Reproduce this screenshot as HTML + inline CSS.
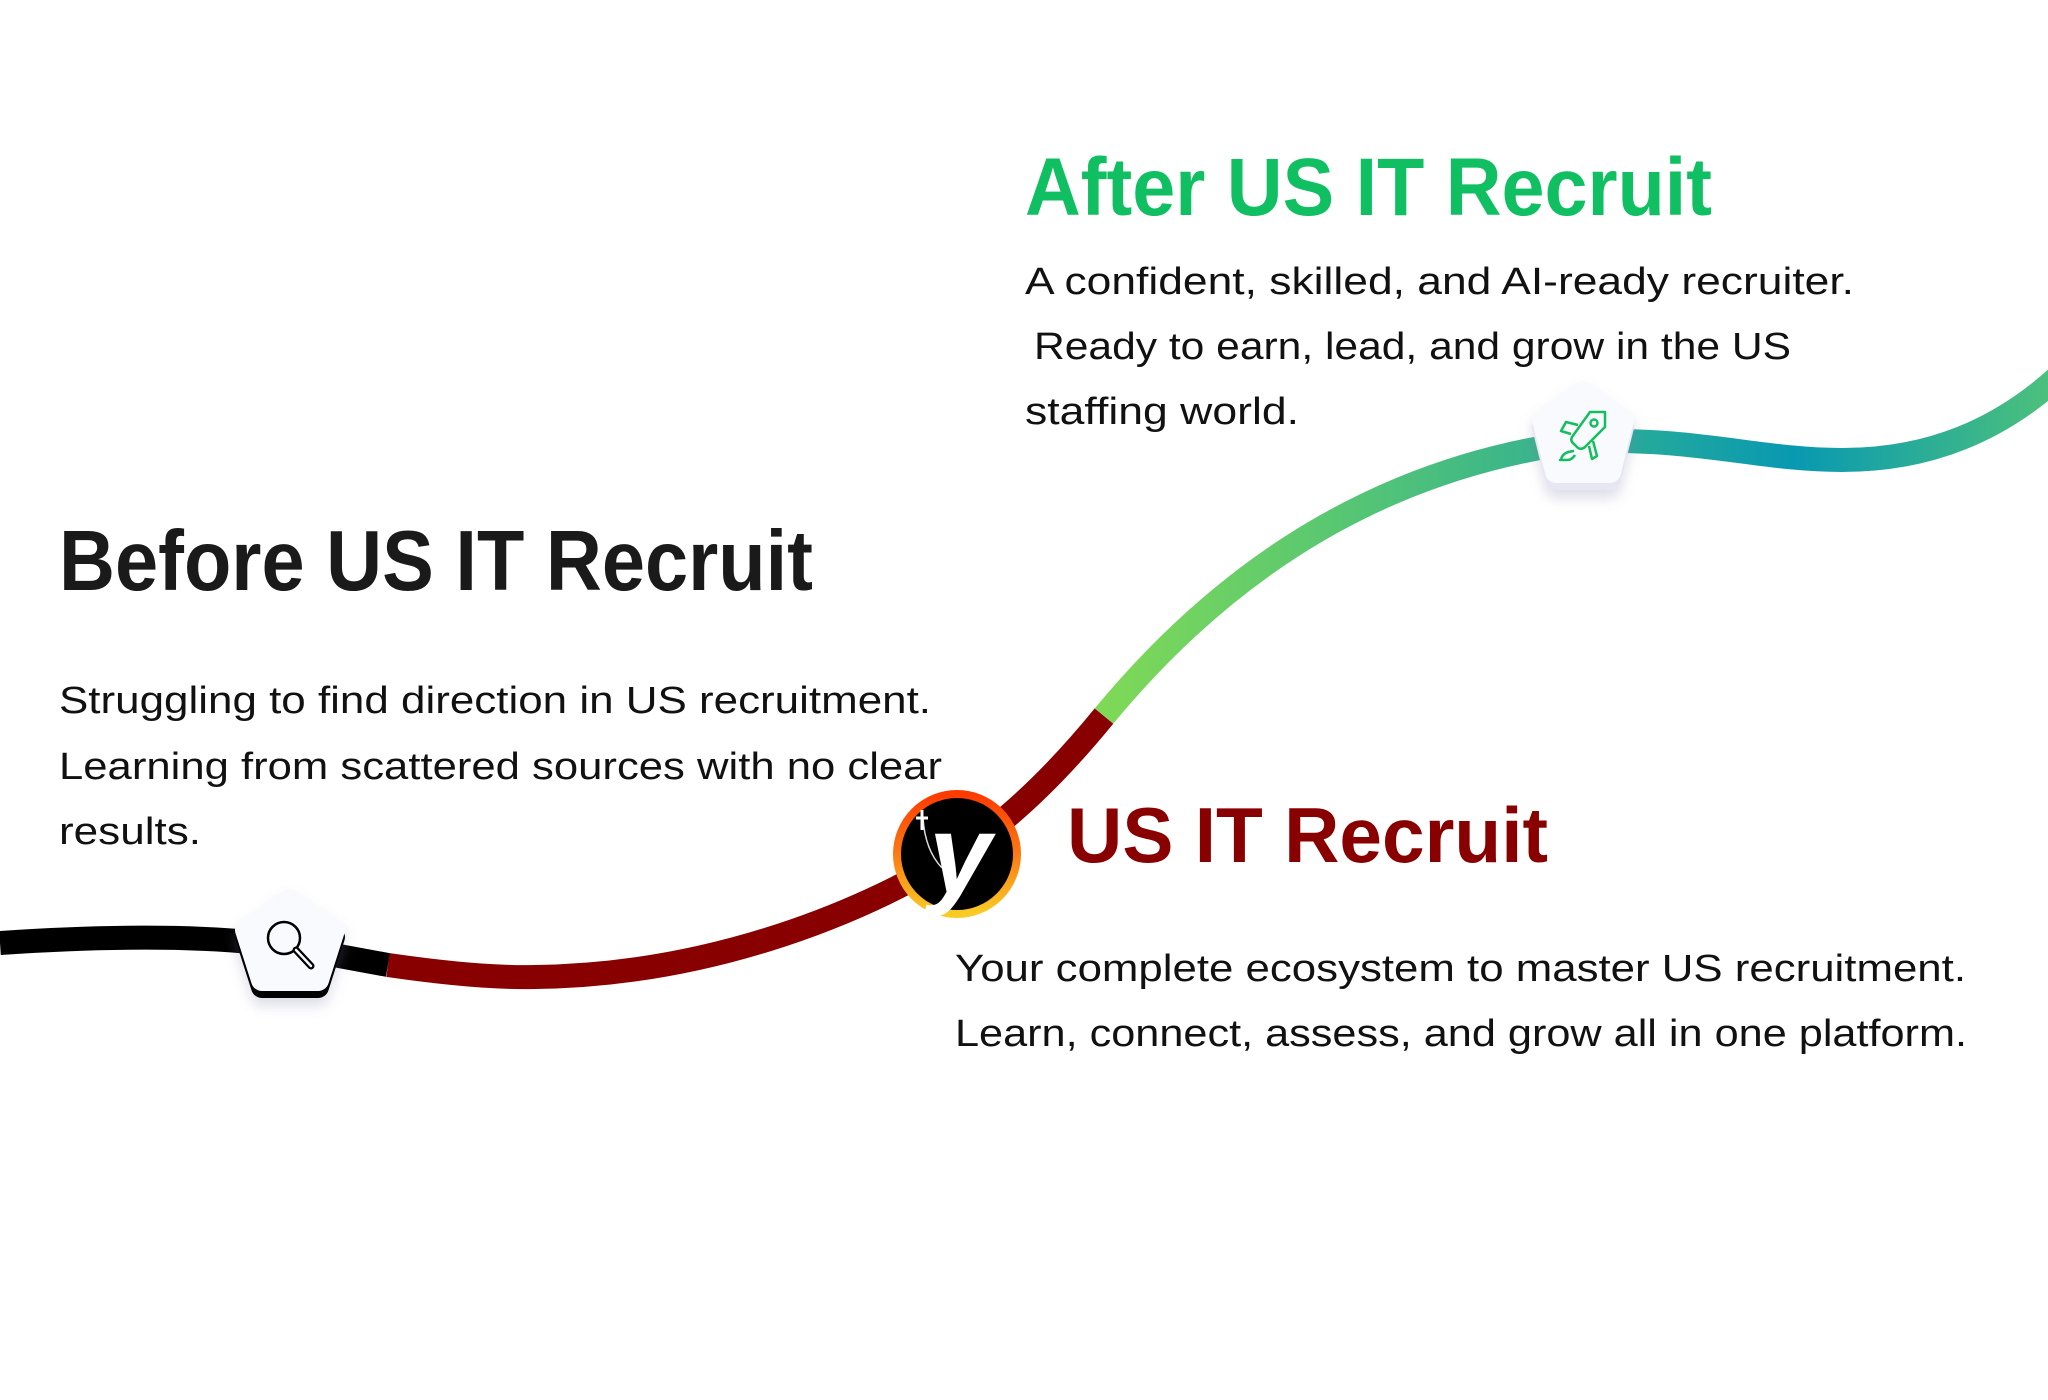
<!DOCTYPE html>
<html><head><meta charset="utf-8"><style>
html,body{margin:0;padding:0;background:#fff;}
svg{display:block}
text{font-family:"Liberation Sans",sans-serif;}
</style></head><body>
<svg width="2048" height="1400" viewBox="0 0 2048 1400" xmlns="http://www.w3.org/2000/svg">
<defs>
<linearGradient id="gg" gradientUnits="userSpaceOnUse" x1="1104" y1="0" x2="2048" y2="0">
<stop offset="0" stop-color="#7fd957"/>
<stop offset="0.22" stop-color="#5cc96f"/>
<stop offset="0.45" stop-color="#3ab58b"/>
<stop offset="0.73" stop-color="#0899b2"/>
<stop offset="1" stop-color="#4cc07c"/>
</linearGradient>
<linearGradient id="ring" x1="0" y1="0" x2="0" y2="1">
<stop offset="0" stop-color="#ff3a00"/>
<stop offset="0.5" stop-color="#fb7a14"/>
<stop offset="1" stop-color="#f9cc25"/>
</linearGradient>
<filter id="sh" x="-30%" y="-30%" width="160%" height="170%">
<feDropShadow dx="0" dy="8" stdDeviation="6" flood-color="#7a7aa8" flood-opacity="0.25"/>
</filter>
</defs>

<!-- lines -->
<path d="M0,943 C120,935 220,936 290,947 L388,965" fill="none" stroke="#000" stroke-width="24"/>
<path d="M388,965 C450,974 500,978 535,977 C700,975 850,920 957,854 C1010,820 1060,770 1104,716" fill="none" stroke="#880000" stroke-width="24"/>
<path d="M1104,716 C1200,600 1350,470 1585,441 C1700,438 1760,460 1842,460 C1930,460 2000,430 2060,375" fill="none" stroke="url(#gg)" stroke-width="24"/>

<!-- search pentagon -->
<g filter="url(#sh)">
<polygon points="290,900 334,930 318,980 262,980 246,930" fill="#000" stroke="#000" stroke-width="22" stroke-linejoin="round" transform="translate(0,7)"/>
<polygon points="290,900 334,930 318,980 262,980 246,930" fill="#f9fafd" stroke="#f9fafd" stroke-width="22" stroke-linejoin="round"/>
</g>
<circle cx="284" cy="938" r="16" fill="none" stroke="#000" stroke-width="2.5"/>
<line x1="296" y1="950" x2="311" y2="966" stroke="#000" stroke-width="7" stroke-linecap="round"/>
<line x1="296" y1="950" x2="311" y2="966" stroke="#f9fafd" stroke-width="2.5" stroke-linecap="round"/>

<!-- rocket pentagon -->
<g filter="url(#sh)">
<polygon points="1583,392 1623,420 1610,472 1556,472 1543,420" fill="#e6e7f2" stroke="#e6e7f2" stroke-width="22" stroke-linejoin="round" transform="translate(0,7)"/>
<polygon points="1583,392 1623,420 1610,472 1556,472 1543,420" fill="#f9fafd" stroke="#f9fafd" stroke-width="22" stroke-linejoin="round"/>
</g>
<g fill="none" stroke="#14be5e" stroke-width="2.5" stroke-linejoin="round">
<path d="M1605,412 L1590,412 L1572,437 Q1570,441 1574,444 L1578,448 Q1582,450 1585,447 L1605,427 Z"/>
<circle cx="1594" cy="423" r="3.5"/>
<path d="M1578,425 L1566,422 L1561,431 L1571,434"/>
<path d="M1589,446 L1592,459 L1597,456 L1593,441"/>
<path d="M1574,451 Q1562,452 1561,460 L1560,460 L1560,460 L1567,460 Q1572,460 1575,455"/>
</g>

<!-- logo -->
<circle cx="957" cy="854" r="60" fill="#000" stroke="url(#ring)" stroke-width="8"/>
<text x="960" y="893" font-size="112" font-weight="bold" font-style="italic" fill="#fff" text-anchor="middle">y</text>
<path d="M923,818 Q925,850 942,868" fill="none" stroke="#ddd" stroke-width="1.5"/>
<path d="M922,810 L922,830 M916,818 L928,818" stroke="#fff" stroke-width="3"/>

<!-- text -->
<text x="1025" y="215" font-size="82" font-weight="bold" fill="#0fbf62" textLength="687" lengthAdjust="spacingAndGlyphs">After US IT Recruit</text>
<g font-size="38" fill="#111">
<text x="1025" y="294" textLength="829" lengthAdjust="spacingAndGlyphs">A confident, skilled, and AI-ready recruiter.</text>
<text x="1034" y="359" textLength="757" lengthAdjust="spacingAndGlyphs">Ready to earn, lead, and grow in the US</text>
<text x="1025" y="424" textLength="274" lengthAdjust="spacingAndGlyphs">staffing world.</text>
</g>

<text x="59" y="590" font-size="85" font-weight="bold" fill="#1a1a1a" textLength="754" lengthAdjust="spacingAndGlyphs">Before US IT Recruit</text>
<g font-size="38" fill="#111">
<text x="59" y="713" textLength="872" lengthAdjust="spacingAndGlyphs">Struggling to find direction in US recruitment.</text>
<text x="59" y="779" textLength="883" lengthAdjust="spacingAndGlyphs">Learning from scattered sources with no clear</text>
<text x="59" y="844" textLength="142" lengthAdjust="spacingAndGlyphs">results.</text>
</g>

<text x="1067" y="862" font-size="78" font-weight="bold" fill="#880000" textLength="481" lengthAdjust="spacingAndGlyphs">US IT Recruit</text>
<g font-size="38" fill="#111">
<text x="955" y="981" textLength="1011" lengthAdjust="spacingAndGlyphs">Your complete ecosystem to master US recruitment.</text>
<text x="955" y="1046" textLength="1012" lengthAdjust="spacingAndGlyphs">Learn, connect, assess, and grow all in one platform.</text>
</g>
</svg>
</body></html>
